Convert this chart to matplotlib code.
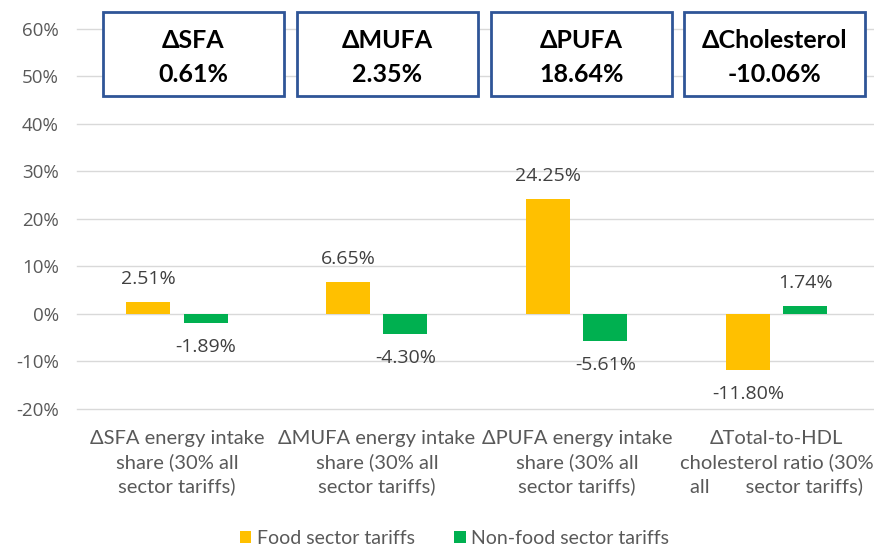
import numpy as np
import matplotlib.pyplot as plt
from matplotlib.patches import Rectangle

plt.rcParams['font.family'] = ['Lato', 'DejaVu Sans']

categories = ['\u0394SFA energy intake\nshare (30% all\nsector tariffs)',
              '\u0394MUFA energy intake\nshare (30% all\nsector tariffs)',
              '\u0394PUFA energy intake\nshare (30% all\nsector tariffs)',
              '\u0394Total-to-HDL\ncholesterol ratio (30%\nall       sector tariffs)']
food = [2.51, 6.65, 24.25, -11.80]
nonfood = [-1.89, -4.30, -5.61, 1.74]
box_titles = ['\u0394SFA', '\u0394MUFA', '\u0394PUFA', '\u0394Cholesterol']
box_values = ['0.61%', '2.35%', '18.64%', '-10.06%']
yticks = [-20, -10, 0, 10, 20, 30, 40, 50, 60]

txt = '#595959'
fig = plt.figure(figsize=(8.74, 5.47), dpi=100)
ax = fig.add_axes([0.0881, 0.2523, 0.915, 0.6947])

x = np.arange(len(categories))
w = 0.22
off = 0.143
b1 = ax.bar(x - off, food, w, color='#FFC000', label='Food sector tariffs', zorder=3)
b2 = ax.bar(x + off, nonfood, w, color='#00B050', label='Non-food sector tariffs', zorder=3)

for bars, vals in [(b1, food), (b2, nonfood)]:
    for b, v in zip(bars, vals):
        dy = 23 if v >= 0 else -24
        ax.annotate(f'{v:.2f}%', (b.get_x() + b.get_width() / 2, v),
                    xytext=(0, dy), textcoords='offset pixels',
                    ha='center', va='center', fontsize=14, color='#404040',
                    family=['Open Sans', 'DejaVu Sans'])

ax.set_xlim(-0.5, len(categories) - 0.5)
ax.set_ylim(-20, 60)
ax.set_yticks(yticks)
ax.set_yticklabels([f'{t}%' for t in yticks], fontsize=13.5, color=txt,
                   family=['Open Sans', 'DejaVu Sans'])
ax.set_xticks(x)
ax.set_xticklabels(categories, fontsize=14.5, color=txt, linespacing=1.42)
ax.tick_params(length=0)
ax.tick_params(axis='x', pad=15)
ax.tick_params(axis='y', pad=13)
ax.grid(axis='y', color='#D9D9D9', linewidth=1, zorder=0)
for l in ax.get_ygridlines():
    l.set_clip_on(False)
for s in ax.spines.values():
    s.set_visible(False)

box_left = [0.0325, 0.275, 0.5175, 0.759]
for bx, t, v in zip(box_left, box_titles, box_values):
    ax.add_patch(Rectangle((bx, 0.824), 0.226, 0.221, transform=ax.transAxes,
                           fill=True, facecolor='white', edgecolor='#2F5597',
                           linewidth=2, clip_on=False, zorder=5))
    ax.text(bx + 0.113, 0.971, t, transform=ax.transAxes, ha='center', va='center',
            fontsize=18, fontweight='bold', color='black', zorder=6)
    ax.text(bx + 0.113, 0.881, v, transform=ax.transAxes, ha='center', va='center',
            fontsize=18, fontweight='bold', color='black', zorder=6)

leg = fig.legend(loc='center', bbox_to_anchor=(0.52, 0.016), ncol=2, frameon=False,
                 fontsize=14, handlelength=0.6, handleheight=0.6, columnspacing=2.0,
                 handletextpad=0.3)
for t in leg.get_texts():
    t.set_color(txt)

fig.savefig('out.png', dpi=100)
